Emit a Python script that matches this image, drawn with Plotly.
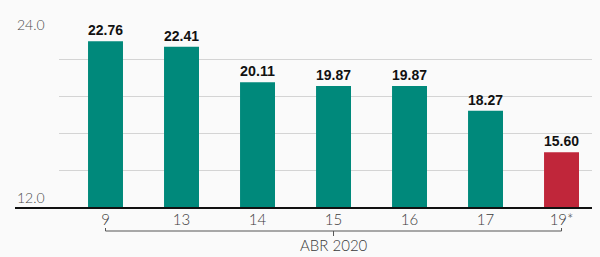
import plotly.graph_objects as go

categories = ["9", "13", "14", "15", "16", "17", "19*"]
values = [22.76, 22.41, 20.11, 19.87, 19.87, 18.27, 15.60]
bar_colors = ["#00897b"] * 6 + ["#c0263a"]
y_labels = ["24.0", "12.0"]
group_label = "ABR 2020"

W, H = 600, 257
L, R, T, B = 59, 8, 22, 49
plot_h = H - T - B
plot_w = W - L - R

def py(px):  # pixel y -> paper
    return (H - B - px) / plot_h

def pxp(px):  # pixel x -> paper
    return (px - L) / plot_w

fig = go.Figure(go.Bar(
    x=categories, y=values,
    marker=dict(color=bar_colors, line=dict(width=0)),
    text=[f"{v:.2f}" for v in values],
    textposition="outside",
    textfont=dict(family="Liberation Sans", size=15, color="#111", weight="bold"),
    cliponaxis=False,
    width=0.46,
))

shapes = [
    dict(type="line", xref="paper", yref="paper", x0=pxp(15), x1=pxp(592), y0=0, y1=0,
         line=dict(color="#111", width=2), layer="above"),
    dict(type="path", xref="x", yref="paper",
         path=f"M 0,{py(228)} L 0,{py(231)} L 6,{py(231)} L 6,{py(228)}",
         line=dict(color="#555", width=1)),
    dict(type="line", xref="x", yref="paper", x0=3, x1=3, y0=py(231), y1=py(236),
         line=dict(color="#555", width=1)),
]

annotations = [
    dict(text=y_labels[0], xref="paper", yref="y", x=pxp(15), y=24, xanchor="left", yanchor="middle",
         yshift=-2, showarrow=False, font=dict(family="Lato", size=14, color="#4a4a4a", weight=300)),
    dict(text=y_labels[1], xref="paper", yref="y", x=pxp(15), y=12, xanchor="left", yanchor="bottom",
         yshift=0, showarrow=False, font=dict(family="Lato", size=14, color="#4a4a4a", weight=300)),
    dict(text=group_label, xref="x", yref="paper", x=3, y=py(245), xanchor="center", yanchor="middle",
         showarrow=False, font=dict(family="Lato", size=15, color="#3a3a3a", weight=300)),
]

fig.update_layout(
    width=W, height=H,
    margin=dict(l=L, r=R, t=T, b=B),
    paper_bgcolor="#fafafa", plot_bgcolor="#fafafa",
    showlegend=False,
    shapes=shapes, annotations=annotations,
    xaxis=dict(type="category", range=[-0.612, 6.401], showgrid=False, showline=False,
               ticks="", tickfont=dict(family="Lato", size=15, color="#3a3a3a", weight=300),
               ticklabelstandoff=1),
    yaxis=dict(range=[12, 24], tickvals=[12, 14.4, 16.8, 19.2, 21.6, 24], showticklabels=False,
               showgrid=True, gridcolor="#d4d4d4", gridwidth=1, zeroline=False, showline=False),
)

fig.write_html("out.html", config={"displayModeBar": False},
               post_script="document.body.style.margin='0';document.body.style.background='#fafafa';")
